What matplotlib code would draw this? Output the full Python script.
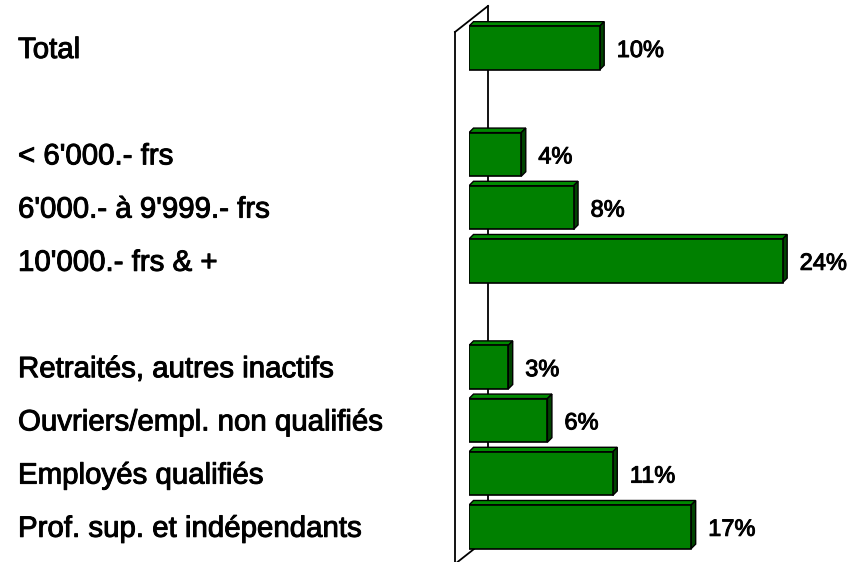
import matplotlib

matplotlib.use("Agg")
import matplotlib.pyplot as plt
import matplotlib.patheffects as pe
from matplotlib.patches import Polygon

# categories top to bottom, with slot positions (empty slots separate the groups)
categories = [
    "Total",
    "< 6'000.- frs",
    "6'000.- à 9'999.- frs",
    "10'000.- frs & +",
    "Retraités, autres inactifs",
    "Ouvriers/empl. non qualifiés",
    "Employés qualifiés",
    "Prof. sup. et indépendants",
]
slots = [0, 2, 3, 4, 6, 7, 8, 9]
values = [10, 4, 8, 24, 3, 6, 11, 17]

W, H = 849, 562
FRONT = "#008000"
TOP = "#008a00"
SIDE = "#004400"
FONT = "Liberation Sans"
# slightly heavier strokes on the text
THICK = [pe.withStroke(linewidth=0.7, foreground="black")]

fig = plt.figure(figsize=(W / 100, H / 100), dpi=100)

# background layer in pixel units for the wall and category labels
bg = fig.add_axes([0, 0, 1, 1])
bg.set_xlim(0, W)
bg.set_ylim(H, 0)
bg.axis("off")

# back wall edge, top diagonal, front wall edge, bottom diagonal
bg.plot([488, 488], [6, 538], color="black", lw=1.3)
bg.plot([455, 488], [32, 6], color="black", lw=1.3)
bg.plot([455, 455], [32, H], color="black", lw=1.3)
bg.plot([455, 488], [564, 538], color="black", lw=1.3)

# bar axes: x=0 at pixel 469, 13.07 px per percent; one slot = 53.2 px
px_per_pct = 13.07
px_per_slot = 53.2
x0_px = 469
ax = fig.add_axes([x0_px / W, 0, 1 - x0_px / W, 1])
ax.set_xlim(0, (W - x0_px) / px_per_pct)
ax.set_ylim((H - 48) / px_per_slot, -48 / px_per_slot)
ax.axis("off")

bar_h = 0.82
dx = 4.5 / px_per_pct
dy = 4.5 / px_per_slot

ax.barh(slots, values, height=bar_h, color=FRONT, edgecolor="black",
        linewidth=1.2, zorder=3)
for y, v in zip(slots, values):
    top = y - bar_h / 2
    bot = y + bar_h / 2
    ax.add_patch(Polygon([(0, top), (dx, top - dy), (v + dx, top - dy), (v, top)],
                         closed=True, facecolor=TOP, edgecolor="black",
                         linewidth=1.0, zorder=2))
    ax.add_patch(Polygon([(v, top), (v + dx, top - dy), (v + dx, bot - dy), (v, bot)],
                         closed=True, facecolor=SIDE, edgecolor="black",
                         linewidth=1.0, zorder=2))
    ax.annotate(f"{v}%", xy=(v, y), xytext=(17, -9), textcoords="offset pixels",
                ha="left", va="baseline", fontsize=17, family=FONT,
                color="black", path_effects=THICK)

for y, label in zip(slots, categories):
    ypx = 48 + y * px_per_slot
    bg.text(18, ypx + 10, label, ha="left", va="baseline", fontsize=21.2,
            family=FONT, color="black", path_effects=THICK)

fig.savefig("out.png", dpi=100)
